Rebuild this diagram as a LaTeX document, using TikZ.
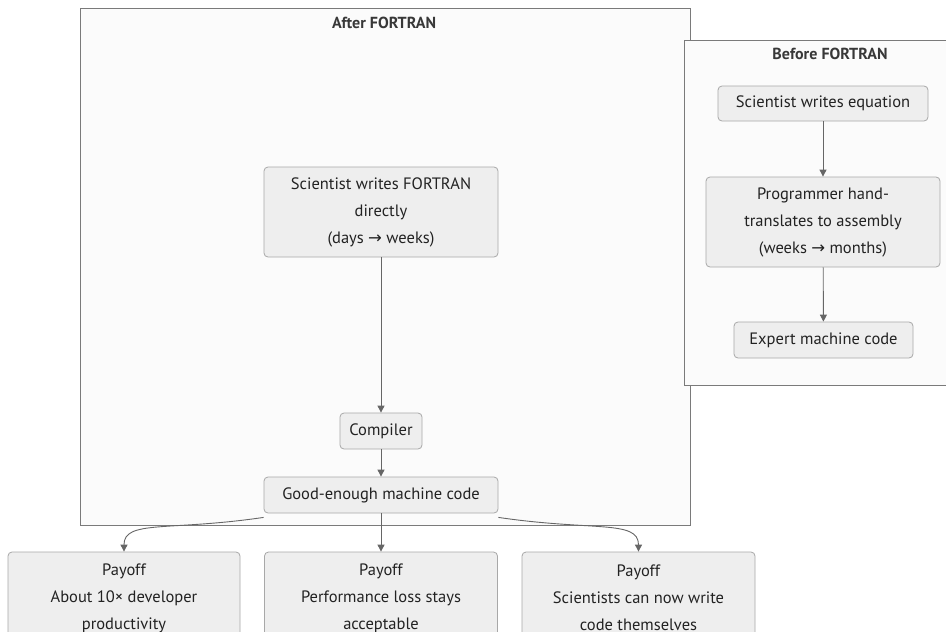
\documentclass[tikz,border=0pt]{standalone}
\usepackage{fontspec}
\setmainfont{PT Sans}
\newfontfamily\symfont{DejaVu Sans}
\usetikzlibrary{arrows.meta}

\definecolor{clusterfill}{HTML}{FBFBFB}
\definecolor{clusterline}{HTML}{7A7A7A}
\definecolor{boxfill}{HTML}{EEEEEE}
\definecolor{boxline}{HTML}{A8A8A8}
\definecolor{arrowcol}{HTML}{666666}
\definecolor{textcol}{HTML}{222222}

\newcommand{\ra}{{\symfont →}}

\tikzset{
  cluster/.style={draw=clusterline, fill=clusterfill, line width=0.9pt},
  clustertitle/.style={font=\fontsize{16}{27}\selectfont\bfseries, text=textcol!90!white},
  stepbox/.style={draw=boxline, fill=boxfill, rounded corners=4pt, align=center,
    text=textcol, inner sep=0pt, line width=0.8pt},
  flow/.style={draw=arrowcol, line width=0.9pt, -{Triangle[length=7pt,width=7pt]}},
}

\begin{document}
\begin{tikzpicture}[x=1pt, y=-1pt, font=\fontsize{16.5}{27}\selectfont]
    % --- 画布大小 ---
    \useasboundingbox[fill=white] (0,0) rectangle (946,632);

    % --- 两个分组框 ---
    \draw[cluster] (80,8) rectangle (690,525);
    \node[clustertitle] (aftertitle) at (384,23) {After FORTRAN};
    \draw[cluster] (684,40) rectangle (952,385);
    \node[clustertitle] (beforetitle) at (830,54) {Before FORTRAN};

    % --- Before FORTRAN 流程 ---
    \node[stepbox, minimum width=210, minimum height=35] (eqn) at (823,103.5) {Scientist writes equation};
    \node[stepbox, minimum width=234, minimum height=90] (hand) at (823,222)
        {Programmer hand-\\translates to assembly\\(weeks \ra{} months)};
    \node[stepbox, minimum width=179, minimum height=36] (expert) at (823.5,340) {Expert machine code};

    % --- After FORTRAN 流程 ---
    \node[stepbox, minimum width=234, minimum height=90] (direct) at (381,212)
        {Scientist writes FORTRAN\\directly\\(days \ra{} weeks)};
    \node[stepbox, minimum width=82, minimum height=36] (compiler) at (381,431) {Compiler};
    \node[stepbox, minimum width=234, minimum height=36] (good) at (381,495) {Good-enough machine code};

    % --- 三个结果 ---
    \node[stepbox, minimum width=232, minimum height=92] (pay1) at (124,598)
        {Payoff\\About 10× developer\\productivity};
    \node[stepbox, minimum width=233, minimum height=92] (pay2) at (381,598)
        {Payoff\\Performance loss stays\\acceptable};
    \node[stepbox, minimum width=233, minimum height=92] (pay3) at (638.5,598)
        {Payoff\\Scientists can now write\\code themselves};

    % --- 连线 ---
    \draw[flow] (eqn) -- (hand);
    \draw[flow] (hand) -- (expert);
    \draw[flow] (direct) -- (compiler);
    \draw[flow] (compiler) -- (good);
    \draw[flow] (good) -- (pay2);
    \draw[flow] ([yshift=-4pt]good.south west) .. controls +(-95,14) and +(0,-32) .. (pay1.north);
    \draw[flow] ([yshift=-4pt]good.south east) .. controls +(95,14) and +(0,-32) .. (pay3.north);

\end{tikzpicture}
\end{document}
